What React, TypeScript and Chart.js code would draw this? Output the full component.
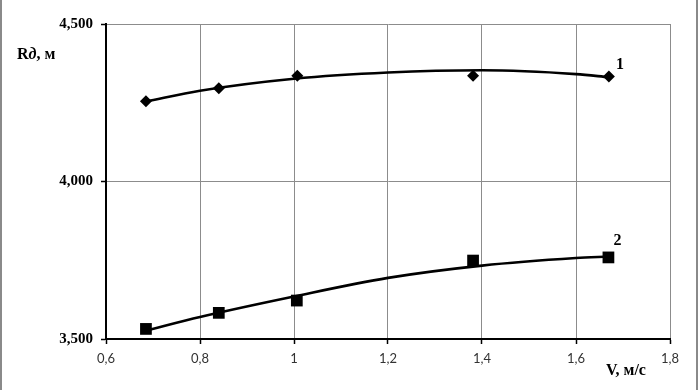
import React, { useEffect, useRef } from "react";
import { Chart, registerables } from "chart.js";

Chart.register(...registerables);

// Measured points
const series1X = [0.685, 0.84, 1.007, 1.381, 1.67];
const series1Y = [4255, 4296, 4336, 4336, 4333];
const series2X = [0.685, 0.84, 1.006, 1.381, 1.669];
const series2Y = [3532, 3583, 3622, 3749, 3759];

// Trend curves
const trendX = [0.685, 0.8, 1.0, 1.2, 1.4, 1.6, 1.67];
const trend1Y = [4254, 4288, 4326, 4346, 4353, 4341, 4331];
const trend2Y = [3527, 3570, 3635, 3694, 3733, 3757, 3762];

const xTicks = [0.6, 0.8, 1.0, 1.2, 1.4, 1.6, 1.8];
const yTicks = [3500, 4000, 4500];
const curveLabels = ["1", "2"];

const toPts = (xs: number[], ys: number[]) => xs.map((x, i) => ({ x, y: ys[i] }));

export default function App() {
  const ref = useRef<HTMLCanvasElement | null>(null);

  useEffect(() => {
    if (!ref.current) return;
    const textPlugin = {
      id: "texts",
      beforeDraw(chart: any) {
        const ctx = chart.ctx;
        ctx.save();
        ctx.fillStyle = "#fff";
        ctx.fillRect(0, 0, chart.width, chart.height);
        ctx.fillStyle = "#8a8a8a";
        ctx.fillRect(0, 0, 2, chart.height);
        ctx.fillRect(696, 0, 2, chart.height);
        ctx.restore();
      },
      afterDraw(chart: any) {
        const ctx = chart.ctx;
        const xs = chart.scales.x;
        const ys = chart.scales.y;
        ctx.save();
        ctx.fillStyle = "#000";
        ctx.textBaseline = "middle";
        // y title: Rд, м
        let x = 17;
        const yT = 55;
        ctx.font = "bold 16px 'Liberation Serif'";
        ctx.textAlign = "left";
        ctx.fillText("R", x, yT);
        x += ctx.measureText("R").width;
        ctx.font = "italic bold 16px 'Liberation Serif'";
        ctx.fillText("д", x, yT);
        x += ctx.measureText("д").width;
        ctx.font = "bold 16px 'Liberation Serif'";
        ctx.fillText(", м", x, yT);
        // x title
        ctx.fillText("V, м/с", 606, 371);
        // curve labels
        ctx.font = "bold 16px 'Liberation Serif'";
        const last1 = { x: series1X[series1X.length - 1], y: series1Y[series1Y.length - 1] };
        const last2 = { x: series2X[series2X.length - 1], y: series2Y[series2Y.length - 1] };
        ctx.fillText(curveLabels[0], xs.getPixelForValue(last1.x) + 7, ys.getPixelForValue(last1.y) - 12);
        ctx.fillText(curveLabels[1], xs.getPixelForValue(last2.x) + 5, ys.getPixelForValue(last2.y) - 17);
        ctx.restore();
      },
    };

    const chart = new Chart(ref.current, {
      type: "scatter",
      data: {
        datasets: [
          {
            type: "line",
            data: toPts(trendX, trend1Y),
            borderColor: "#000",
            borderWidth: 2.6,
            pointRadius: 0,
            cubicInterpolationMode: "monotone",
            fill: false,
          },
          {
            type: "line",
            data: toPts(trendX, trend2Y),
            borderColor: "#000",
            borderWidth: 2.6,
            pointRadius: 0,
            cubicInterpolationMode: "monotone",
            fill: false,
          },
          {
            data: toPts(series1X, series1Y),
            pointStyle: "rectRot",
            pointRadius: 6,
            backgroundColor: "#000",
            borderColor: "#000",
            borderWidth: 0,
          },
          {
            data: toPts(series2X, series2Y),
            pointStyle: "rect",
            pointRadius: 8.3,
            backgroundColor: "#000",
            borderColor: "#000",
            borderWidth: 0,
          },
        ] as any,
      },
      options: {
        responsive: false,
        animation: false,
        layout: { padding: { left: 0, right: 29, top: 24, bottom: 0 } },
        plugins: { legend: { display: false }, tooltip: { enabled: false } },
        scales: {
          x: {
            type: "linear",
            min: 0.6,
            max: 1.8,
            afterBuildTicks: (s: any) => {
              s.ticks = xTicks.map((v) => ({ value: v }));
            },
            afterFit: (s: any) => {
              s.height = 51;
            },
            ticks: {
              padding: 7,
              color: "#333",
              font: { family: "Lato", size: 13 },
              callback: (v: any) => String(Math.round(Number(v) * 10) / 10).replace(".", ","),
            },
            grid: { color: "#8c8c8c", lineWidth: 1, tickLength: 5, tickColor: "#000", tickWidth: 1.5 },
            border: { color: "#000", width: 2 },
          },
          y: {
            type: "linear",
            min: 3500,
            max: 4500,
            afterBuildTicks: (s: any) => {
              s.ticks = yTicks.map((v) => ({ value: v }));
            },
            afterFit: (s: any) => {
              s.width = 106;
            },
            ticks: {
              padding: 8,
              color: "#000",
              font: { family: "Liberation Serif", size: 15, weight: "bold" },
              callback: (v: any) => Number(v).toLocaleString("en-US"),
            },
            grid: { color: "#8c8c8c", lineWidth: 1, tickLength: 5, tickColor: "#000", tickWidth: 1.5 },
            border: { color: "#000", width: 2 },
          },
        },
      },
      plugins: [textPlugin],
    } as any);
    return () => chart.destroy();
  }, []);

  return (
    <div style={{ position: "fixed", left: 0, top: 0, width: 699, height: 390, background: "#fff" }}>
      <canvas ref={ref} width={699} height={390} style={{ width: 699, height: 390, display: "block" }} />
    </div>
  );
}
